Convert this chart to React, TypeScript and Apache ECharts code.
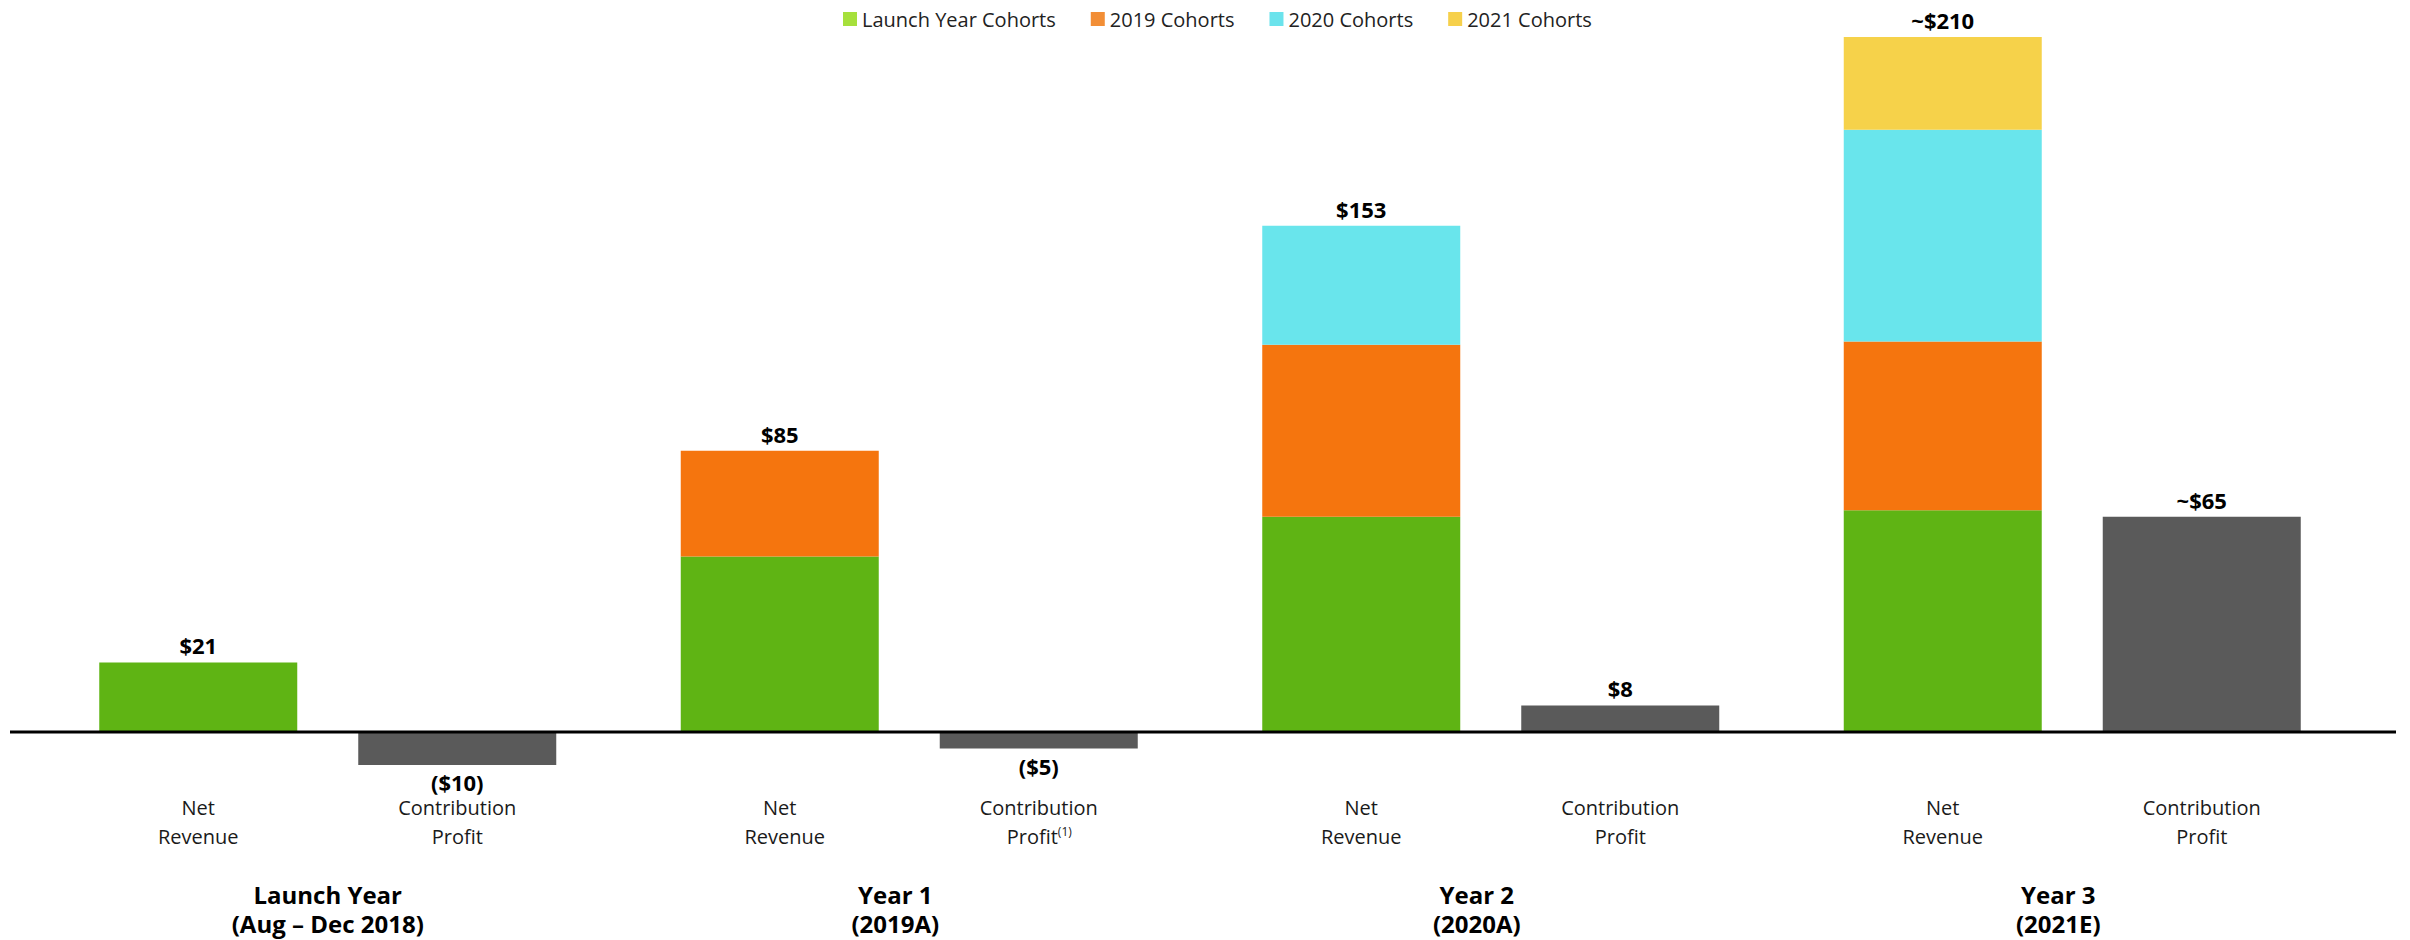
import { useEffect, useRef } from "react";
import * as echarts from "echarts";

// Periods along the category axis
const years = ["Launch Year", "Year 1", "Year 2", "Year 3"];
const periods = ["(Aug – Dec 2018)", "(2019A)", "(2020A)", "(2021E)"];

// Net revenue by customer cohort ($M)
const cohortNames = ["Launch Year Cohorts", "2019 Cohorts", "2020 Cohorts", "2021 Cohorts"];
const launchCohort = [21, 53, 65, 67];
const cohort2019 = [0, 32, 52, 51];
const cohort2020 = [0, 0, 36, 64];
const cohort2021 = [0, 0, 0, 28];

// Contribution profit ($M)
const contributionProfit = [-10, -5, 8, 65];

// Estimated periods get a "~" prefix; Year 1 profit carries footnote (1)
const estimated = [false, false, false, true];
const profitFootnote = [false, true, false, false];

const cohortColors = ["#5FB414", "#F5750E", "#69E5EC", "#F6D24A"];
const legendColors = ["#A6E03C", "#F28E36", "#6BE3EC", "#F6D04B"];
const profitColor = "#5A5A5A";
const FONT = "'Open Sans', 'Noto Sans', sans-serif";

const cohorts = [launchCohort, cohort2019, cohort2020, cohort2021];
const totals = years.map((_, c) => cohorts.reduce((s, arr) => s + arr[c], 0));
const topIndex = years.map((_, c) => {
  let idx = 0;
  cohorts.forEach((arr, i) => {
    if (arr[c] > 0) idx = i;
  });
  return idx;
});

const money = (v: number, approx: boolean) => {
  const body = v < 0 ? `($${Math.abs(v)})` : `$${v}`;
  return (approx ? "~" : "") + body;
};

const BAR_W = 198;
const GAP = 61;

export default function App() {
  const ref = useRef<HTMLDivElement>(null);

  useEffect(() => {
    document.body.style.margin = "0";
    if (!ref.current) return;
    const chart = echarts.init(ref.current, undefined, { renderer: "svg" });

    const valueLabel = {
      fontFamily: FONT,
      fontWeight: "bold" as const,
      fontSize: 22,
      color: "#000",
    };

    const cohortSeries = cohortNames.map((name, i) => ({
      name,
      type: "bar" as const,
      stack: "revenue",
      barWidth: BAR_W,
      barGap: `${(GAP / BAR_W) * 100}%`,
      itemStyle: { color: cohortColors[i] },
      label: {
        ...valueLabel,
        position: "top" as const,
        distance: 6,
        formatter: (p: any) => money(totals[p.dataIndex], estimated[p.dataIndex]),
      },
      data: cohorts[i].map((v, c) => ({
        value: v,
        label: { show: topIndex[c] === i },
      })),
    }));

    const profitSeries = {
      name: "Contribution Profit",
      type: "bar" as const,
      stack: "profit",
      barWidth: BAR_W,
      itemStyle: { color: profitColor },
      label: {
        ...valueLabel,
        show: true,
        distance: 6,
        formatter: (p: any) => money(p.value, estimated[p.dataIndex]),
      },
      data: contributionProfit.map((v) => ({
        value: v,
        label: { position: v < 0 ? "bottom" : "top" },
      })),
    };

    const axisLabelText = (_: string, idx: number) => {
      const line1 = `{nr|Net}{gap|}{cp|Contribution}`;
      const line2 = profitFootnote[idx]
        ? `{nr|Revenue}{gapFn|}{txt|Profit}{sup|(1)}{tailFn|}`
        : `{nr|Revenue}{gap|}{cp|Profit}`;
      const g = idx === 0 ? "g" : "gs";
      return [line1, line2, "{sp|}", `{${g}|${years[idx]}}`, `{${g}|${periods[idx]}}`].join("\n");
    };

    const sub = { fontFamily: FONT, fontSize: 20, color: "#1a1a1a", lineHeight: 29 };
    const grp = { fontFamily: FONT, fontSize: 24, fontWeight: "bold" as const, color: "#000", lineHeight: 29 };

    chart.setOption({
      animation: false,
      backgroundColor: "#fff",
      textStyle: { fontFamily: FONT },
      legend: {
        top: 4,
        left: 838,
        itemWidth: 14,
        itemHeight: 14,
        itemGap: 35,
        icon: "rect",
        textStyle: { fontFamily: FONT, fontSize: 20, color: "#222" },
        data: cohortNames.map((n, i) => ({ name: n, itemStyle: { color: legendColors[i] } })),
      },
      grid: {
        left: 37,
        width: 2326,
        top: 3.9,
        height: 777.7,
        containLabel: false,
        outerBoundsMode: "none",
      },
      xAxis: {
        type: "category",
        data: years,
        axisLine: { show: false, onZero: false },
        axisTick: { show: false },
        axisLabel: {
          margin: 11,
          interval: 0,
          lineHeight: 29,
          formatter: axisLabelText,
          rich: {
            nr: { ...sub, width: BAR_W, align: "center" },
            cp: { ...sub, width: BAR_W, align: "center" },
            gap: { ...sub, width: GAP },
            gapFn: { ...sub, width: GAP + BAR_W / 2 - 37 },
            txt: { ...sub },
            sup: { fontFamily: FONT, fontSize: 12, color: "#1a1a1a", lineHeight: 29, verticalAlign: "top", padding: [4, 0, 0, 0] },
            tailFn: { ...sub, width: BAR_W / 2 - 38 },
            sp: { ...sub },
            g: { ...grp },
            gs: { ...grp, padding: [0, 28, 0, 0] },
          },
        },
      },
      yAxis: {
        type: "value",
        min: -15,
        max: 220,
        show: false,
        splitLine: { show: false },
      },
      series: [...cohortSeries, profitSeries],
    });

    const y0 = chart.convertToPixel({ yAxisIndex: 0 }, 0) as number;
    chart.setOption({
      graphic: [
        {
          type: "line",
          z: 100,
          shape: { x1: 10, y1: y0, x2: 2396, y2: y0 },
          style: { stroke: "#000", lineWidth: 3 },
        },
      ],
    });

    return () => chart.dispose();
  }, []);

  return <div ref={ref} style={{ width: 2410, height: 940 }} />;
}
